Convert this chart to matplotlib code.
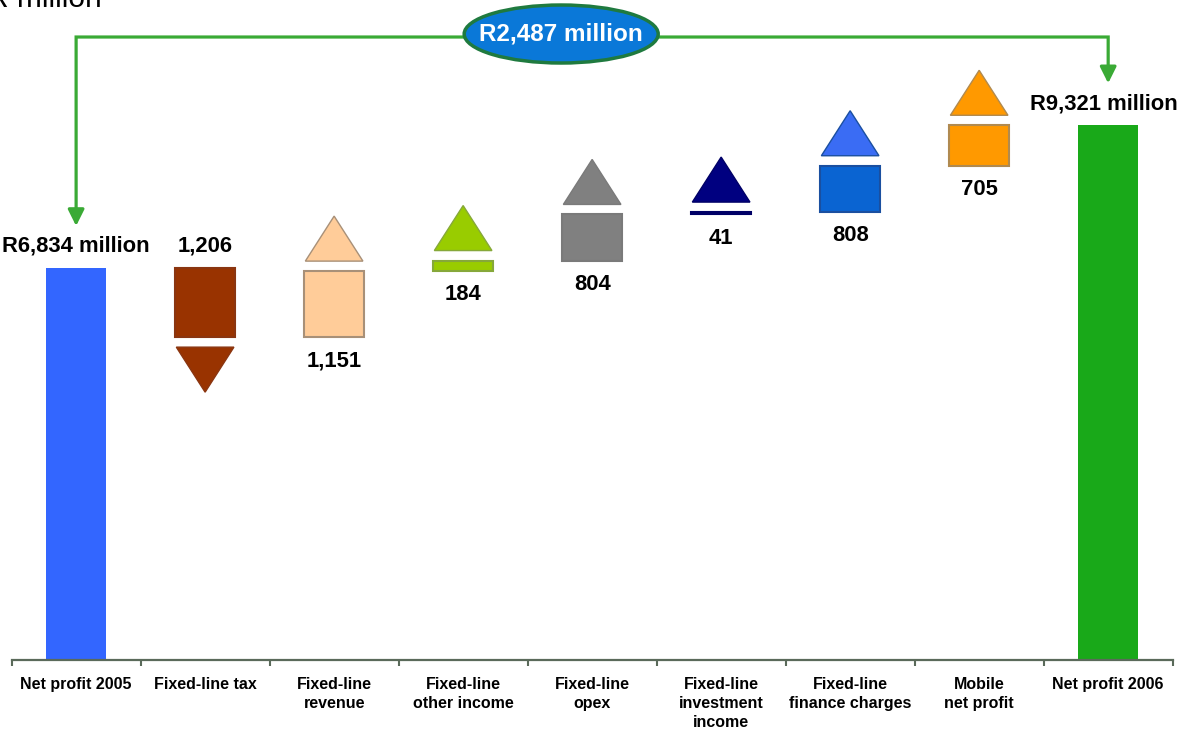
import matplotlib.pyplot as plt
from matplotlib.patches import Polygon, Ellipse

plt.rcParams['font.family'] = ['Liberation Sans', 'DejaVu Sans']

# ---- data (R million) ----
categories = ["Net profit 2005", "Fixed-line tax", "Fixed-line\nrevenue",
              "Fixed-line\nother income", "Fixed-line\nopex",
              "Fixed-line\ninvestment\nincome", "Fixed-line\nfinance charges",
              "Mobile\nnet profit", "Net profit 2006"]
start_value = 6834
changes = [-1206, 1151, 184, 804, 41, 808, 705]
end_value = 9321

# ---- styles ----
total_colors = ['#3366ff', '#19a919']
bar_colors = ['#993300', '#ffcc99', '#99cc00', '#808080', '#000080', '#0a64d2', '#ff9900']
tri_colors = ['#993300', '#ffcc99', '#99cc00', '#808080', '#000080', '#3a6cf4', '#ff9900']
edge_colors = ['#8a3510', '#a89078', '#86a83a', '#7a7a7a', '#000066', '#1a4fa0', '#b08a50']
green = '#3aaa35'

fig = plt.figure(figsize=(11.83, 7.3), dpi=100)
ax = fig.add_axes([0, 0, 1, 1])
ax.set_xlim(-0.59, 8.58)
ax.set_ylim(-1220, 11505)
upx = (11505 + 1220) / 730      # data units per pixel (vertical)

w = 0.465
gap = 10 * upx
tri_h = 45 * upx
lbl = dict(fontsize=15.8, fontweight='bold', ha='center', va='baseline',
           textcoords='offset points')

# opening and closing totals
ax.bar(0, start_value, width=w, color=total_colors[0], zorder=2)
ax.bar(8, end_value, width=w, color=total_colors[1], zorder=2)
ax.annotate(f"R{start_value:,} million", (0, start_value), xytext=(0, 11.5), **lbl)
ax.annotate(f"R{end_value:,} million", (8, end_value), xytext=(-3, 11.5), **lbl)

# step bars with direction triangles
level = start_value
for i, d in enumerate(changes):
    x = i + 1
    lo, hi = sorted((level, level + d))
    ax.bar(x, hi - lo, bottom=lo, width=w, color=bar_colors[i],
           edgecolor=edge_colors[i], linewidth=1.5, zorder=2)
    tw = w * 0.48
    if d > 0:
        base = hi + gap
        pts = [(x - tw, base), (x + tw, base), (x, base + tri_h)]
        ax.annotate(f"{abs(d):,}", (x, lo), xytext=(0, -21), **lbl)
    else:
        base = lo - gap
        pts = [(x - tw, base), (x + tw, base), (x, base - tri_h)]
        ax.annotate(f"{abs(d):,}", (x, hi), xytext=(0, 11.5), **lbl)
    ax.add_patch(Polygon(pts, closed=True, facecolor=tri_colors[i],
                         edgecolor=edge_colors[i], linewidth=1, zorder=2))
    level += d

# bracket showing the overall increase
by = (660 - 37) * upx
tip = 42 * upx
head = 10 * upx
ax.plot([0, 0, 8, 8], [start_value + tip + head, by, by, end_value + tip + head],
        color=green, lw=2.3, solid_joinstyle='miter', snap=False, zorder=3)
for x, top in [(0, start_value), (8, end_value)]:
    ax.annotate('', xy=(x, top + tip), xytext=(x, top + tip + head + 3 * upx),
                arrowprops=dict(arrowstyle='-|>,head_length=0.7,head_width=0.35',
                                color=green, lw=2.3, shrinkA=0, shrinkB=0,
                                mutation_scale=14), zorder=3)
ax.add_patch(Ellipse((3.76, (660 - 34) * upx), 1.504, 58 * upx,
                     facecolor='#0a78d8', edgecolor='#1f7a3f', lw=2.5, zorder=4))
ax.text(3.76, (660 - 34) * upx, f"R{end_value - start_value:,} million",
        color='white', fontsize=17.5, fontweight='bold', ha='center',
        va='center', zorder=5)

# category axis
for s in ['left', 'right', 'top']:
    ax.spines[s].set_visible(False)
ax.spines['bottom'].set_position(('data', 0))
ax.spines['bottom'].set_bounds(-0.5, 8.5)
ax.spines['bottom'].set_color('#5a6a5a')
ax.spines['bottom'].set_linewidth(1.6)
ax.set_yticks([])
ax.set_xticks([i - 0.5 for i in range(10)])
ax.set_xticklabels([])
ax.tick_params(axis='x', which='major', direction='out', length=4,
               width=1.5, color='#5a6a5a')
ax.set_xticks(range(9), minor=True)
ax.set_xticklabels(categories, minor=True, fontsize=11.5, fontweight='bold',
                   linespacing=1.35)
ax.tick_params(axis='x', which='minor', length=0, pad=12)

fig.text(-0.011, 1 - 7 / 730, "R million", fontsize=21.5, va='baseline', ha='left')

fig.savefig('out.png', dpi=100)
